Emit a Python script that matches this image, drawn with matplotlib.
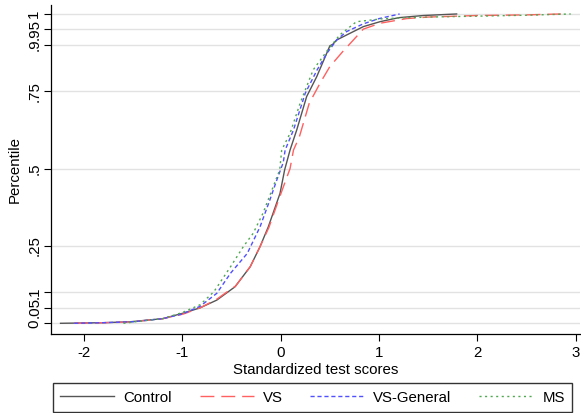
import matplotlib
matplotlib.use("Agg")
import matplotlib.pyplot as plt

plt.rcParams['font.family'] = ['Liberation Sans', 'DejaVu Sans']

# Data (x = standardized score, y = cumulative share)
control_x = [-2.24, -1.8, -1.53, -1.2, -0.99, -0.82, -0.65, -0.465, -0.31, -0.21, -0.126,
             -0.007, 0.04, 0.095, 0.163, 0.264, 0.366, 0.468, 0.50, 0.53, 0.57, 0.67, 0.84,
             1.01, 1.2, 1.45, 1.79]
control_y = [0.0, 0.002, 0.005, 0.015, 0.033, 0.05, 0.075, 0.118, 0.183, 0.248, 0.312,
             0.42, 0.496, 0.56, 0.625, 0.733, 0.797, 0.873, 0.897, 0.902, 0.916, 0.932, 0.959,
             0.975, 0.988, 0.995, 1.0]

vs_x = [-2.1, -1.8, -1.53, -1.2, -0.99, -0.82, -0.65, -0.5, -0.46, -0.31, -0.21, -0.12,
        -0.02, 0.06, 0.095, 0.13, 0.19, 0.29, 0.40, 0.50, 0.63, 0.74, 0.84, 1.01, 1.28,
        1.5, 2.0, 2.5, 2.85]
vs_y = [0.0, 0.002, 0.004, 0.015, 0.03, 0.05, 0.078, 0.112, 0.12, 0.183, 0.248, 0.31,
        0.40, 0.47, 0.50, 0.56, 0.603, 0.711, 0.776, 0.83, 0.878, 0.916, 0.951, 0.97, 0.985,
        0.99, 0.995, 0.997, 1.0]

vsg_x = [-2.1, -1.8, -1.5, -1.2, -1.0, -0.82, -0.65, -0.51, -0.34, -0.21, -0.11, -0.04,
         0.026, 0.045, 0.13, 0.25, 0.37, 0.47, 0.57, 0.67, 0.84, 1.0, 1.21]
vsg_y = [0.0, 0.002, 0.005, 0.015, 0.03, 0.055, 0.097, 0.162, 0.226, 0.312, 0.399, 0.463,
         0.52, 0.56, 0.625, 0.744, 0.819, 0.873, 0.916, 0.943, 0.968, 0.985, 1.0]

ms_x = [-1.6, -1.4, -1.2, -1.0, -0.82, -0.68, -0.51, -0.38, -0.28, -0.18, -0.076, -0.01,
        0.01, 0.095, 0.197, 0.33, 0.47, 0.60, 0.77, 1.05, 1.5, 2.0, 2.5, 2.95]
ms_y = [0.0, 0.008, 0.015, 0.035, 0.06, 0.102, 0.183, 0.248, 0.291, 0.356, 0.442, 0.496,
        0.56, 0.614, 0.711, 0.819, 0.88, 0.932, 0.975, 0.985, 0.99, 0.993, 0.996, 1.0]

x_ticks = [-2, -1, 0, 1, 2, 3]
x_tick_labels = ['-2', '-1', '0', '1', '2', '3']
y_ticks = [0, 0.05, 0.1, 0.25, 0.5, 0.75, 0.9, 0.95, 1]
y_tick_labels = ['0', '.05', '.1', '.25', '.5', '.75', '.9', '.95', '1']

FS = 10.8
W, H = 581, 413
fig = plt.figure(figsize=(W / 100, H / 100), dpi=100)
ax = fig.add_axes([51 / W, (H - 334) / H, (580 - 51) / W, (334 - 5) / H])

ax.plot(control_x, control_y, color='#555555', lw=1.0, ls='-', label='Control')
ax.plot(vs_x, vs_y, color='#ff6060', lw=1.0, ls=(0, (10, 5)), label='VS')
ax.plot(vsg_x, vsg_y, color='#5050ff', lw=1.0, ls=(0, (3, 2)), label='VS-General')
ax.plot(ms_x, ms_y, color='#50a850', lw=1.0, ls=(0, (1.5, 2.5)), label='MS')

ax.set_xlim(-2.337, 3.045)
ax.set_ylim(-0.0346, 1.029)
ax.set_xticks(x_ticks)
ax.set_xticklabels(x_tick_labels)
ax.set_yticks(y_ticks)
ax.set_yticklabels(y_tick_labels, rotation=90, va='center')
ax.tick_params(axis='both', direction='out', length=5, width=0.8, labelsize=FS, colors='black')
ax.tick_params(axis='y', pad=2)
ax.grid(axis='y', color='#e2e2e2', lw=1.0)
ax.set_axisbelow(True)
for s in ['top', 'right']:
    ax.spines[s].set_visible(False)
for s in ['left', 'bottom']:
    ax.spines[s].set_linewidth(0.9)

ax.set_xlabel('Standardized test scores', fontsize=FS, labelpad=2)
ax.set_ylabel('Percentile', fontsize=FS, labelpad=4)

leg = fig.legend(loc='center', ncol=4, fontsize=FS,
                 bbox_to_anchor=((47 + 578) / 2 / W, (H - 397.5) / H),
                 frameon=True, fancybox=False, handlelength=3.6, handletextpad=0.6,
                 columnspacing=1.85, borderpad=0.5, borderaxespad=0)
leg.get_frame().set_edgecolor('black')
leg.get_frame().set_linewidth(1.0)

fig.savefig('out.png', dpi=100)
